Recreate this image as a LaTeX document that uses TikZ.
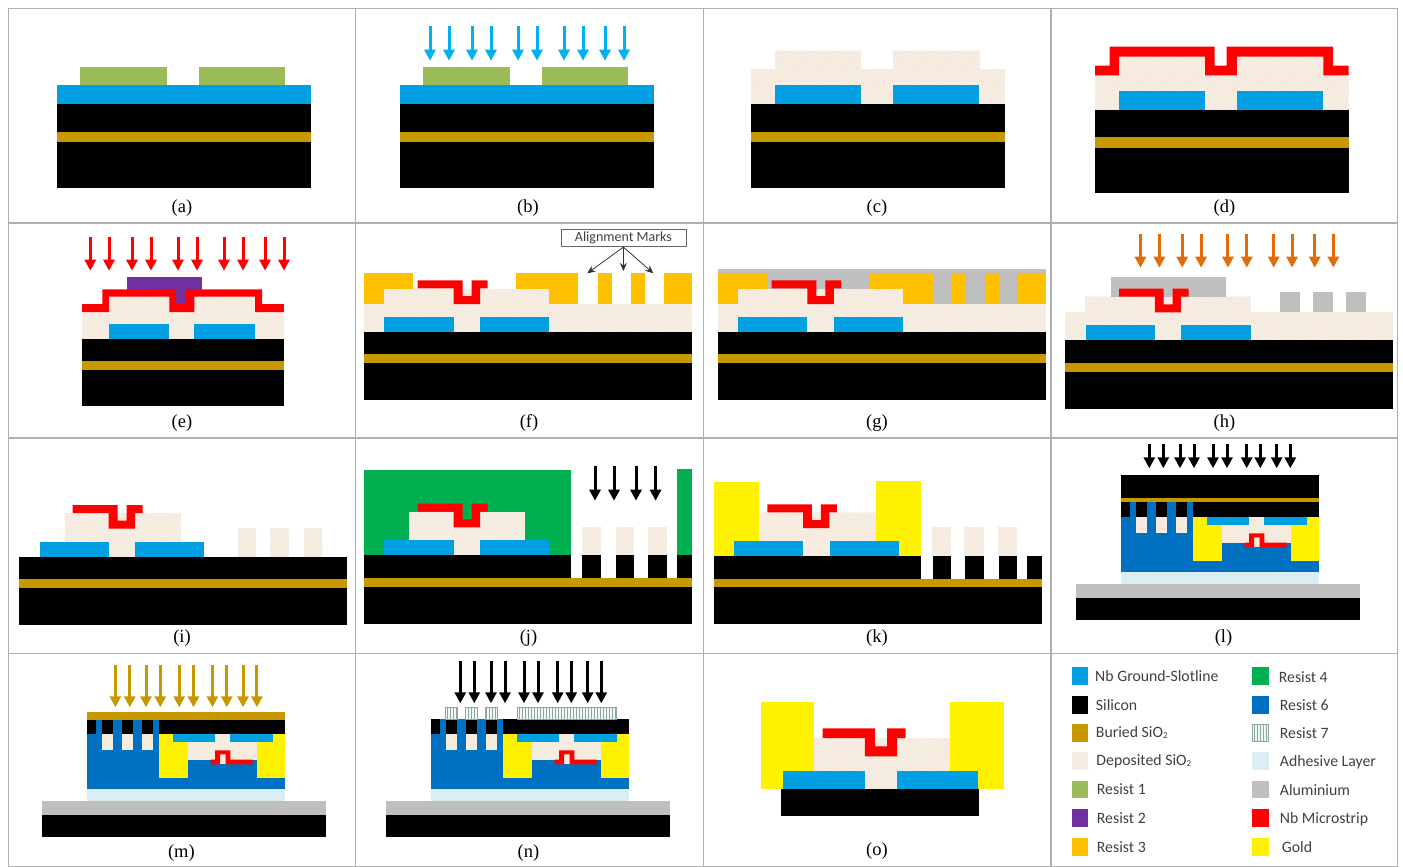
\documentclass[tikz,border=0pt]{standalone}
\usepackage{fontspec}
\usetikzlibrary{arrows.meta,patterns}
\setmainfont{Liberation Serif}
\newfontfamily\legfont{Carlito}
\definecolor{nbc}{HTML}{00A0E3}
\definecolor{burc}{HTML}{C89800}
\definecolor{oxb}{HTML}{FAF3EB}
\definecolor{oxh}{HTML}{EEDFCE}
\definecolor{oxs}{HTML}{F6EBDF}
\definecolor{resa}{HTML}{9BBB59}
\definecolor{resb}{HTML}{7030A0}
\definecolor{resc}{HTML}{FFC000}
\definecolor{resd}{HTML}{00B050}
\definecolor{resf}{HTML}{0070C0}
\definecolor{resg}{HTML}{EEF7F3}
\definecolor{resgl}{HTML}{8FA89C}
\definecolor{adh}{HTML}{DAEEF3}
\definecolor{alu}{HTML}{BFBFBF}
\definecolor{arrb}{HTML}{00B0F0}
\definecolor{arro}{HTML}{E36C0A}
\definecolor{frm}{HTML}{B0B0B0}
\definecolor{legt}{HTML}{404040}
\tikzset{
  nb/.style={fill=nbc},
  si/.style={fill=black},
  bur/.style={fill=burc},
  ox/.style={fill=oxb,postaction={pattern=north east lines,pattern color=oxh}},
  oxflat/.style={fill=oxs},
  ra/.style={fill=resa},
  rb/.style={fill=resb},
  rc/.style={fill=resc},
  rd/.style={fill=resd},
  rf/.style={fill=resf},
  rg/.style={fill=resg,draw=resgl,line width=.5pt,postaction={pattern=vertical lines,pattern color=resgl}},
  ad/.style={fill=adh},
  al/.style={fill=alu},
  ms/.style={fill=red},
  au/.style={fill=yellow},
  uv/.style={line width=3pt,-{Triangle[width=11pt,length=11pt]}},
  frame/.style={draw=frm,line width=1.2pt},
  plab/.style={font=\fontsize{18.5}{20}\selectfont,inner sep=0pt},
  legtxt/.style={font=\legfont\fontsize{15.8}{18}\selectfont,text=legt,anchor=west,inner sep=0pt},
  amarrow/.style={draw=black!80,line width=.8pt,-{Stealth[width=7pt,length=8pt]}},
  ambox/.style={draw=black!60,line width=.8pt,minimum width=125pt,minimum height=17.4pt,inner sep=0pt,font=\legfont\fontsize{14}{15}\selectfont,text=legt},
  rx/.style={shift={(704,0)},xscale=0.9942,shift={(-704,0)}}
}
\newcommand\Rr[5]{\fill[#1] (#2,#3) rectangle (#4,#5);}
\newcommand\Stack[6]{\Rr{si}{#1}{#3}{#2}{#6}\Rr{bur}{#1}{#4}{#2}{#5}}
\newcommand\Micro[2]{\fill[ms,shift={(#1,#2)}] (0,0)--(44.9,0)--(44.9,15.7)--(53.9,15.7)--(53.9,0)--(70,0)--(70,8)--(62.4,8)--(62.4,23.7)--(35.9,23.7)--(35.9,8)--(0,8)--cycle;}
\newcommand\Arrows[4]{\foreach \xa in {#4} {\draw[uv,#1] (\xa,#2) -- (\xa,#3);}}
% flipped chip, drawn at the coordinates of panel (l)
\newcommand\FlipChip[2]{%
\begin{scope}[shift={(#1,#2)}]
\Rr{rf}{1121}{502.3}{1318.7}{572.3}
\Rr{oxflat}{1135.7}{516.7}{1147.3}{533.3}
\Rr{oxflat}{1156}{516.7}{1167.3}{533.3}
\Rr{oxflat}{1175.7}{516.7}{1187.3}{533.3}
\Rr{si}{1121}{502.3}{1130}{516.7}
\Rr{si}{1135.7}{502.3}{1147.3}{516.7}
\Rr{si}{1156}{502.3}{1167.3}{516.7}
\Rr{si}{1175.7}{502.3}{1187.3}{516.7}
\Rr{au}{1193.3}{516.7}{1222}{561}
\Rr{au}{1291.3}{516.7}{1318.7}{561}
\Rr{oxflat}{1222}{525}{1291.3}{542.7}
\Rr{oxflat}{1249}{516.7}{1264.3}{525.5}
\Rr{oxflat}{1254}{542}{1259.7}{547.3}
\Rr{si}{1193.3}{502.3}{1318.7}{516.7}
\Rr{nb}{1207}{516.7}{1249}{525.3}
\Rr{nb}{1264.3}{516.7}{1306.7}{525.3}
\fill[ms] (1244.7,542.7)--(1249,542.7)--(1249,533.3)--(1264.3,533.3)--(1264.3,542.7)--(1286.7,542.7)--(1286.7,547.3)--(1259.7,547.3)--(1259.7,537.3)--(1254,537.3)--(1254,547.3)--(1244.7,547.3)--cycle;
\Rr{ad}{1121}{572.3}{1318.7}{584.3}
\Rr{al}{1075.7}{584.3}{1360.3}{597.7}
\Rr{si}{1075.7}{597.7}{1360.3}{620.3}
\end{scope}}
\begin{document}
\begin{tikzpicture}[x=1pt,y=-1pt]
\useasboundingbox (0,0) rectangle (1403,867);
% (a)
\Stack{57}{310.7}{104}{131.5}{142.3}{188}
\Rr{nb}{57}{85.3}{310.7}{104}
\Rr{ra}{80.4}{66.7}{166.6}{85.3}
\Rr{ra}{198.5}{66.7}{284.7}{85.3}
% (b)
\Stack{400}{654}{104}{131.5}{142.3}{188}
\Rr{nb}{400}{85.3}{654}{104}
\Rr{ra}{423.4}{66.7}{509.8}{85.3}
\Rr{ra}{542}{66.7}{628}{85.3}
\Arrows{arrb}{26}{60.7}{430,449,472,491,518,537,564,583,605,624}
% (c)
\begin{scope}[rx]
\Rr{ox}{751.5}{69.3}{1006.7}{104}
\Rr{ox}{775.7}{50.7}{861.8}{69.5}
\Rr{ox}{894}{50.7}{981.6}{69.5}
\Stack{751.5}{1006.7}{104}{131.5}{142.3}{188}
\Rr{nb}{775.3}{85.3}{861.8}{104}
\Rr{nb}{894}{85.3}{981}{104}
\end{scope}
% (d)
\begin{scope}[rx]
\Rr{ox}{1097.3}{75}{1352.4}{109.7}
\Rr{ox}{1121.5}{56.7}{1208}{75.5}
\Rr{ox}{1240}{56.7}{1327}{75.5}
\Stack{1097.3}{1352.4}{109.7}{137.3}{148}{193.3}
\Rr{nb}{1121.5}{90.7}{1208}{109.7}
\Rr{nb}{1240}{90.7}{1327}{109.7}
\fill[ms] (1097.3,65.7)--(1112,65.7)--(1112,46.7)--(1217.5,46.7)--(1217.5,65.7)--(1229.6,65.7)--(1229.6,46.7)--(1336.8,46.7)--(1336.8,65.7)--(1352.4,65.7)--(1352.4,75.3)--(1327,75.3)--(1327,56.7)--(1240,56.7)--(1240,75.3)--(1208,75.3)--(1208,56.7)--(1121.5,56.7)--(1121.5,75.3)--(1097.3,75.3)--cycle;
\end{scope}
% (e)
\Rr{ox}{82.2}{312}{283.8}{339.3}
\Rr{ox}{109}{296.7}{255}{312.5}
\Stack{82.2}{283.8}{339.3}{361.3}{369.7}{406}
\Rr{nb}{109}{324.3}{169.3}{339.3}
\Rr{nb}{194.4}{324.3}{255}{339.3}
\Rr{rb}{127}{277.3}{202}{289.5}
\Rr{rb}{176}{289}{186}{304.5}
\fill[ms] (82.2,304)--(102.4,304)--(102.4,289.3)--(176,289.3)--(176,304)--(186,304)--(186,289.3)--(262.2,289.3)--(262.2,304)--(283.8,304)--(283.8,312)--(255,312)--(255,296.7)--(194.4,296.7)--(194.4,312)--(169.3,312)--(169.3,296.7)--(109,296.7)--(109,312)--(82.2,312)--cycle;
\Arrows{red}{236.7}{270.7}{90.3,109,132,151,178,197,224,243,265,284}
% (f)
\Rr{ox}{363.7}{304}{691.5}{332}
\Rr{ox}{383.5}{289}{549.2}{304.5}
\Stack{363.7}{691.5}{332}{354.3}{363.3}{400.3}
\Rr{nb}{383.5}{317}{453.5}{332}
\Rr{nb}{479.6}{317}{549.2}{332}
\Rr{rc}{363.7}{273.3}{413}{289}
\Rr{rc}{363.7}{289}{383.5}{304}
\Rr{rc}{515.5}{273.3}{578.4}{289}
\Rr{rc}{549.2}{289}{578.4}{304}
\Rr{rc}{597.7}{273.3}{611.6}{304}
\Rr{rc}{631.3}{273.3}{645.3}{304}
\Rr{rc}{664.1}{273.3}{691.5}{304}
\Micro{417.6}{280.3}
\node[ambox] (am) at (623.4,238) {Alignment Marks};
\coordinate (amA) at (587.3,273.3);
\coordinate (amB) at (623.4,271);
\coordinate (amC) at (653.3,273.3);
\draw[amarrow] (am.south) -- (amA);
\draw[amarrow] (am.south) -- (amB);
\draw[amarrow] (am.south) -- (amC);
% (g)
\begin{scope}[rx]
\Rr{al}{718.3}{269}{1047.5}{304.5}
\Rr{ox}{718.3}{304}{1047.5}{332}
\Rr{ox}{738}{289}{904.4}{304.5}
\Stack{718.3}{1047.5}{332}{354.3}{363.3}{400.3}
\Rr{nb}{738}{317}{808}{332}
\Rr{nb}{835}{317}{904.4}{332}
\Rr{rc}{718.3}{273.3}{768}{289}
\Rr{rc}{718.3}{289}{738}{304}
\Rr{rc}{870}{273.3}{934.5}{289}
\Rr{rc}{904.4}{289}{934.5}{304}
\Rr{rc}{953}{273.3}{967.7}{304}
\Rr{rc}{987}{273.3}{1001.8}{304}
\Rr{rc}{1019.3}{273.3}{1047.5}{304}
\Micro{772.1}{280.3}
\end{scope}
% (h)
\begin{scope}[rx]
\Rr{ox}{1067.2}{312}{1397.3}{340.3}
\Rr{ox}{1087}{296.7}{1254}{312.5}
\Stack{1067.2}{1397.3}{340.3}{363}{371.7}{408.7}
\Rr{nb}{1087.9}{325.3}{1157.8}{340.3}
\Rr{nb}{1183.8}{325.3}{1253.8}{340.3}
\Rr{al}{1113.4}{277.3}{1229}{296.7}
\Micro{1121.5}{288.7}
\Rr{al}{1283.4}{292}{1303}{312}
\Rr{al}{1316.6}{292}{1336.3}{312}
\Rr{al}{1350.2}{292}{1369.5}{312}
\Arrows{arro}{234}{267.7}{1143,1162,1185,1204,1231,1250,1277,1295.5,1318.3,1337}
\end{scope}
% (i)
\Rr{ox}{64.7}{513.3}{181}{542}
\Rr{ox}{109}{541.7}{135}{556.7}
\Rr{ox}{238}{528}{256.4}{556.7}
\Rr{ox}{270.3}{528}{289.2}{556.7}
\Rr{ox}{303.6}{528}{322.4}{556.7}
\Stack{19.3}{347}{556.7}{579.3}{588}{625}
\Rr{nb}{39.5}{541.7}{109}{556.7}
\Rr{nb}{135}{541.7}{204.3}{556.7}
\Micro{72.7}{505}
% (j)
\Rr{rd}{363.7}{470.3}{570.7}{555.5}
\Rr{rd}{677}{468.7}{691.5}{555.5}
\Rr{ox}{409}{512}{524.5}{540.5}
\Rr{ox}{453.5}{540}{479.6}{555.3}
\Rr{ox}{582.4}{527}{600.8}{555.3}
\Rr{ox}{615.6}{527}{633.6}{555.3}
\Rr{ox}{648.4}{527}{666.8}{555.3}
\Rr{si}{363.7}{555.3}{570.7}{578}
\Rr{si}{582.4}{555.3}{600.8}{578}
\Rr{si}{615.6}{555.3}{633.6}{578}
\Rr{si}{648.4}{555.3}{666.8}{578}
\Rr{si}{677}{555.3}{691.5}{578}
\Rr{si}{363.7}{586}{691.5}{623.7}
\Rr{bur}{363.7}{577.7}{691.5}{586.7}
\Rr{nb}{383.5}{540}{453.5}{555.3}
\Rr{nb}{479.6}{540}{549.2}{555.3}
\Rr{rd}{462}{503.7}{472}{520}
\Micro{417.6}{503.7}
\Arrows{black}{466}{500.7}{595,614,636,655.6}
% (k)
\begin{scope}[rx]
\Rr{ox}{759.6}{512.7}{876.6}{541.5}
\Rr{ox}{804}{541}{831}{556}
\Rr{ox}{933}{527.3}{952}{556}
\Rr{ox}{966}{527.3}{985.6}{556}
\Rr{ox}{1000}{527.3}{1018.4}{556}
\Rr{si}{713.9}{556}{922.4}{579}
\Rr{si}{934}{556}{952}{579}
\Rr{si}{966.8}{556}{985.6}{579}
\Rr{si}{1000.4}{556}{1018.4}{579}
\Rr{si}{1029}{556}{1043.5}{579}
\Rr{si}{713.9}{587}{1043.5}{624.3}
\Rr{bur}{713.9}{578.7}{1043.5}{587.3}
\Rr{au}{714.3}{482}{759.6}{556}
\Rr{au}{876.6}{481.3}{922.4}{556}
\Rr{nb}{734}{541}{804}{556}
\Rr{nb}{831}{541}{900}{556}
\Micro{767.7}{504.3}
\end{scope}
% (l)
\FlipChip{0}{0}
\Rr{si}{1121}{475}{1318.7}{497.7}
\Rr{bur}{1121}{497.7}{1318.7}{502.3}
\Arrows{black}{444.3}{468.3}{1149.3,1163.3,1180,1194,1213,1227,1246.7,1260.3,1276.7,1290.3}
% (m)
\FlipChip{-1034}{217}
\Rr{bur}{87}{712.3}{284.7}{719.7}
\Arrows{burc}{665}{707.3}{115.4,129.8,146,160.3,179.2,193.5,212.4,226.8,243,256.9}
% (n)
\FlipChip{-690}{217}
\draw[rg] (445.7,707.7) rectangle (457,719.7);
\draw[rg] (465.3,707.7) rectangle (477,719.7);
\draw[rg] (485.3,707.7) rectangle (497,719.7);
\draw[rg] (517.3,707.7) rectangle (616.7,719.7);
\Arrows{black}{661}{703.3}{460.3,474.3,491,505,524,538,557.7,571.3,587.7,601.3}
% (o)
\begin{scope}[rx]
\Rr{ox}{814.3}{738.3}{951.5}{771.5}
\Rr{ox}{866.3}{771}{897.7}{789.3}
\Rr{si}{781.6}{789.3}{980.2}{816.3}
\Rr{au}{761}{702.3}{814.3}{789.3}
\Rr{au}{951.5}{701.7}{1005.8}{789.3}
\Rr{nb}{783.8}{771.3}{866.3}{789.3}
\Rr{nb}{897.7}{771.3}{979.8}{789.3}
\fill[ms] (823.3,728.3)--(876.2,728.3)--(876.2,746.3)--(888.3,746.3)--(888.3,728.3)--(906.7,728.3)--(906.7,738)--(898.2,738)--(898.2,756.3)--(865.9,756.3)--(865.9,738)--(823.3,738)--cycle;
\end{scope}
% frame
\draw[frame] (8.5,8.3) -- (1398,8.3);
\draw[frame] (8.5,223) -- (1398,223);
\draw[frame] (8.5,438) -- (1398,438);
\draw[frame] (8.5,653.5) -- (1398,653.5);
\draw[frame] (8.5,866.5) -- (1398,866.5);
\draw[frame] (8.5,8.3) -- (8.5,866.5);
\draw[frame] (355.6,8.3) -- (355.6,866.5);
\draw[frame] (703.5,8.3) -- (703.5,866.5);
\draw[frame] (1051,8.3) -- (1051,866.5);
\draw[frame] (1397.5,8.3) -- (1397.5,866.5);
% panel labels
\node[plab] (la) at (182,208) {(a)};
\node[plab] (lb) at (528,208) {(b)};
\node[plab] (lc) at (877,208) {(c)};
\node[plab] (ld) at (1224.5,208) {(d)};
\node[plab] (le) at (182,423) {(e)};
\node[plab] (lf) at (529,423) {(f)};
\node[plab] (lg) at (877,423) {(g)};
\node[plab] (lh) at (1224.5,423) {(h)};
\node[plab] (li) at (182,638) {(i)};
\node[plab] (lj) at (528.5,638) {(j)};
\node[plab] (lk) at (877,638) {(k)};
\node[plab] (ll) at (1223.5,638) {(l)};
\node[plab] (lm) at (181.4,853) {(m)};
\node[plab] (ln) at (528.5,853) {(n)};
\node[plab] (lo) at (877,851) {(o)};
% legend
\begin{scope}[rx]
\Rr{nb}{1074.4}{667.3}{1090.6}{685}
\Rr{si}{1074.4}{695.7}{1090.6}{713.7}
\Rr{bur}{1074.4}{724}{1090.6}{741.7}
\Rr{ox}{1074.4}{752}{1090.6}{769.7}
\Rr{ra}{1074.4}{780.7}{1090.6}{798.3}
\Rr{rb}{1074.4}{809}{1090.6}{827}
\Rr{rc}{1074.4}{837.7}{1090.6}{855.7}
\Rr{rd}{1255.6}{667}{1272}{685}
\Rr{rf}{1255.6}{695.7}{1272}{713.7}
\draw[rg] (1255.6,724) rectangle (1272,741.7);
\Rr{ad}{1255.6}{752}{1272}{769.7}
\Rr{al}{1255.6}{780.7}{1272}{798.3}
\Rr{ms}{1255.6}{809}{1272}{827}
\Rr{au}{1255.6}{837.7}{1272}{855.7}
\newcommand\subtwo{\raisebox{-1pt}{\fontsize{9}{9}\selectfont 2}}
\node[legtxt] (t1) at (1097.3,676) {Nb Ground-Slotline};
\node[legtxt] (t2) at (1098,705) {Silicon};
\node[legtxt] (t3) at (1098,733) {Buried SiO\subtwo};
\node[legtxt] (t4) at (1098.5,761) {Deposited SiO\subtwo};
\node[legtxt] (t5) at (1099,789.5) {Resist 1};
\node[legtxt] (t6) at (1099,818) {Resist 2};
\node[legtxt] (t7) at (1099,847) {Resist 3};
\node[legtxt] (t8) at (1282,677) {Resist 4};
\node[legtxt] (t9) at (1283,705) {Resist 6};
\node[legtxt] (t10) at (1283,733) {Resist 7};
\node[legtxt] (t11) at (1283,762) {Adhesive Layer};
\node[legtxt] (t12) at (1283,790) {Aluminium};
\node[legtxt] (t13) at (1283,819) {Nb Microstrip};
\node[legtxt] (t14) at (1285,847) {Gold};
\end{scope}
\end{tikzpicture}
\end{document}
